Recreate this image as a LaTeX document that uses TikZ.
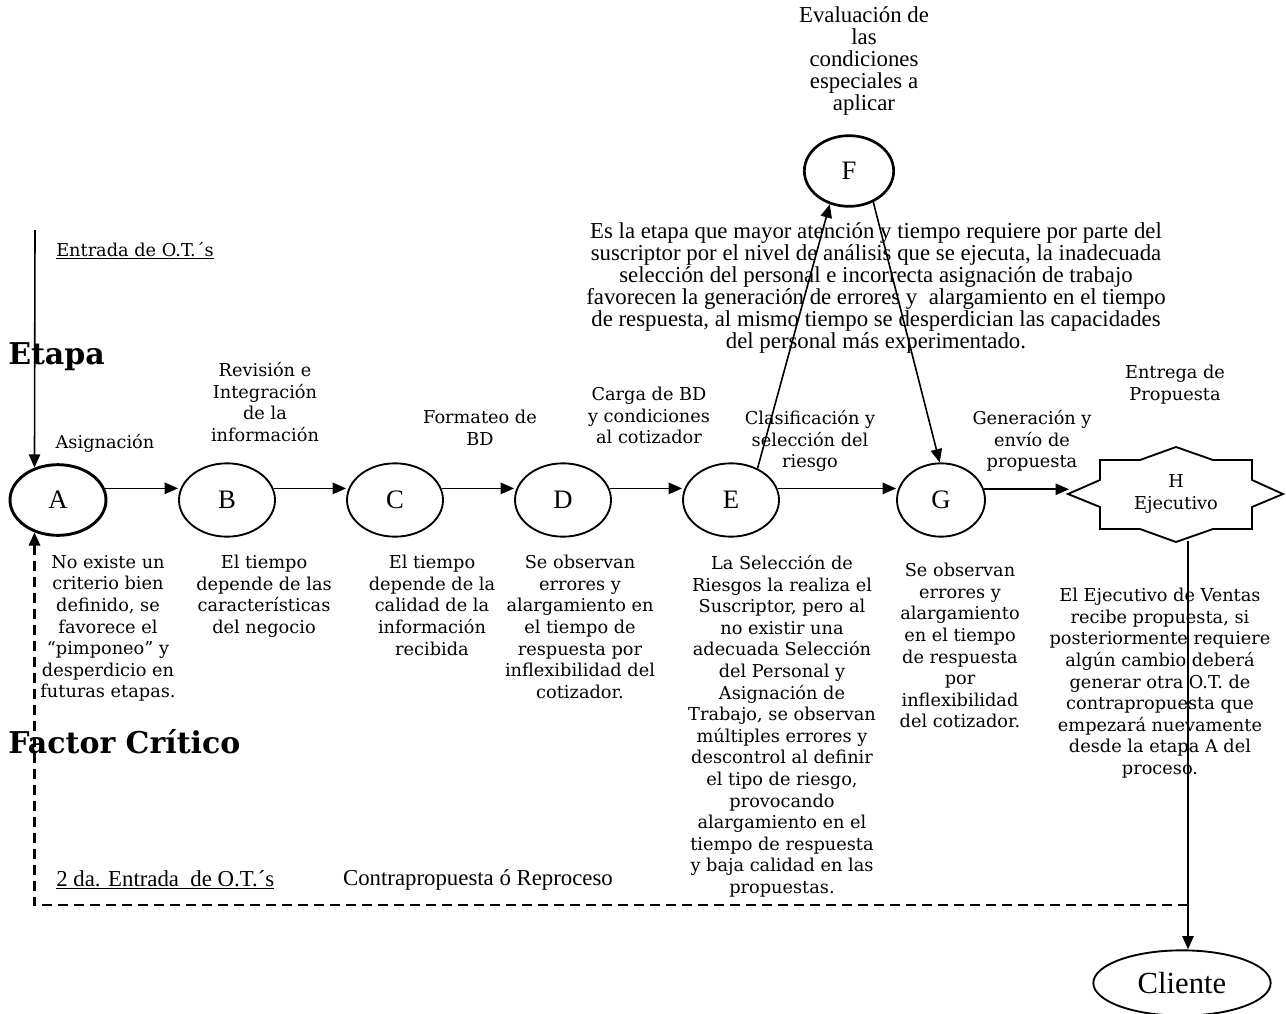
\documentclass[tikz,border=0pt]{standalone}
\usepackage{fontspec}
\setmainfont{DejaVu Serif}
\newfontfamily\angosta{Liberation Serif}
\usetikzlibrary{arrows.meta}
\usetikzlibrary{shapes.geometric}
\usetikzlibrary{positioning}

\newcommand{\notafont}{\fontsize{13.3}{16.2}\selectfont}
\newcommand{\angostafont}{\angosta\fontsize{17.1}{16.5}\selectfont}
\newcommand{\letrafont}{\angosta\fontsize{20}{22}\selectfont}

\tikzset{
  etapa/.style={draw, ellipse, line width=1.4pt, minimum width=72pt, minimum height=55pt, inner sep=0pt, font=\letrafont},
  nota/.style={align=center, font=\notafont, inner sep=0pt},
  nota angosta/.style={align=center, font=\angostafont, inner sep=0pt},
  titulo/.style={anchor=west, inner sep=0pt, font=\bfseries\fontsize{22.5}{24}\selectfont},
  flecha/.style={-{Triangle[length=10pt,width=8.5pt]}, line width=1.2pt},
  retorno/.style={flecha, line width=1.8pt, dash pattern=on 7.5pt off 4.5pt}
}

\begin{document}
\begin{tikzpicture}[x=0.75pt, y=-0.75pt]
  \useasboundingbox (0,0) rectangle (1286,1014);

  \node [etapa, line width=2.2pt, minimum height=53pt] (A) at (58,500) {A};
  \node [etapa] (B) at (227,500) {B};
  \node [etapa] (C) at (395,500) {C};
  \node [etapa] (D) at (563,500) {D};
  \node [etapa] (E) at (731,500) {E};
  \node [etapa, line width=2pt, minimum width=67pt, minimum height=53pt] (F) at (849,171) {F};
  \node [etapa, minimum width=66pt] (G) at (941,500) {G};
  \node [nota] (H) at (1176,494) {H\\Ejecutivo};
  \node [etapa, font=\angosta\fontsize{23}{25}\selectfont, minimum width=133pt, minimum height=49pt] (cliente) at (1182,983) {Cliente};

  \draw [line width=1.4pt] (H.center) ++(-108,0) -- ++(32,-14) -- ++(0,-20) -- ++(40,0) -- ++(36,-13)
    -- ++(37,13) -- ++(39,0) -- ++(0,20) -- ++(31,14) -- ++(-31,13) -- ++(0,22) -- ++(-39,0)
    -- ++(-37,13) -- ++(-36,-13) -- ++(-40,0) -- ++(0,-22) -- cycle;
  \coordinate (Hizq) at (1069,492);
  \coordinate (Hinf) at (1188,541);
  \coordinate (entrada) at (35,230);
  \coordinate (vuelta) at (1188,905);

  \draw [flecha] (entrada) -- (A.126);
  \draw [flecha] (A.14) -- (A.14 -| B.west);
  \draw [flecha] (B.14) -- (B.14 -| C.west);
  \draw [flecha] (C.14) -- (C.14 -| D.west);
  \draw [flecha] (D.14) -- (D.14 -| E.west);
  \draw [flecha] (E.14) -- (E.14 -| G.west);
  \draw [flecha] (E.50) -- (F.240);
  \draw [flecha] (F.308) -- (G.92);
  \draw [flecha] (G.14) -- (G.14 -| Hizq);
  \draw [flecha] (Hinf) -- (Hinf |- cliente.north);
  \draw [retorno] (vuelta) -| (A.234);

  \node [nota, anchor=west] (entradaot) at (56,251) {\underline{Entrada de O.T.´s}};
  \node [titulo] (etapas) at (8,357) {Etapa};
  \node [titulo] (factor) at (8,742) {Factor Crítico};

  \node [nota] (asig) at (105,443) {Asignación};
  \node [nota, anchor=north] (revi) at (265,362) {Revisión e\\Integración\\de la\\información};
  \node [nota, anchor=north] (form) at (480,410) {Formateo de\\BD};
  \node [nota, anchor=north] (carga) at (649,387) {Carga de BD\\y condiciones\\al cotizador};
  \node [nota, anchor=north] (clasif) at (810,410) {Clasificación y\\selección del\\riesgo};
  \node [nota, anchor=north] (gene) at (1032,410) {Generación y\\envío de\\propuesta};
  \node [nota, anchor=north] (entrega) at (1175,365) {Entrega de\\Propuesta};
  \node [nota angosta, anchor=north] (evalua) at (864,6) {Evaluación de\\las\\condiciones\\especiales a\\aplicar};
  \node [nota angosta, anchor=north] (critica) at (876,222) {Es la etapa que mayor atención y tiempo requiere por parte del\\suscriptor por el nivel de análisis que se ejecuta, la inadecuada\\selección del personal e incorrecta asignación de trabajo\\favorecen la generación de errores y\ \ alargamiento en el tiempo\\de respuesta, al mismo tiempo se desperdician las capacidades\\del personal más experimentado.};

  \node [nota, anchor=north] (factA) at (108,555) {No existe un\\criterio bien\\definido, se\\favorece el\\“pimponeo” y\\desperdicio en\\futuras etapas.};
  \node [nota, anchor=north] (factB) at (264,555) {El tiempo\\depende de las\\características\\del negocio};
  \node [nota, anchor=north] (factC) at (432,555) {El tiempo\\depende de la\\calidad de la\\información\\recibida};
  \node [nota, anchor=north] (factD) at (580,555) {Se observan\\errores y\\alargamiento en\\el tiempo de\\respuesta por\\inflexibilidad del\\cotizador.};
  \node [nota, anchor=north] (factE) at (782,555) {La Selección de\\Riesgos la realiza el\\Suscriptor, pero al\\no existir una\\adecuada Selección\\del Personal y\\Asignación de\\Trabajo, se observan\\múltiples errores y\\descontrol al definir\\el tipo de riesgo,\\provocando\\alargamiento en el\\tiempo de respuesta\\y baja calidad en las\\propuestas.};
  \node [nota, anchor=north] (factG) at (960,563) {Se observan\\errores y\\alargamiento\\en el tiempo\\de respuesta\\por\\inflexibilidad\\del cotizador.};
  \node [nota, anchor=north] (factH) at (1160,588) {El Ejecutivo de Ventas\\recibe propuesta, si\\posteriormente requiere\\algún cambio deberá\\generar otra O.T. de\\contrapropuesta que\\empezará nuevamente\\desde la etapa A del\\proceso.};

  \node [nota angosta, anchor=west] (segunda) at (56,880) {\underline{2 da. Entrada\ \ de O.T.´s}};
  \node [nota angosta] (contra) at (478,880) {Contrapropuesta ó Reproceso};
\end{tikzpicture}
\end{document}
